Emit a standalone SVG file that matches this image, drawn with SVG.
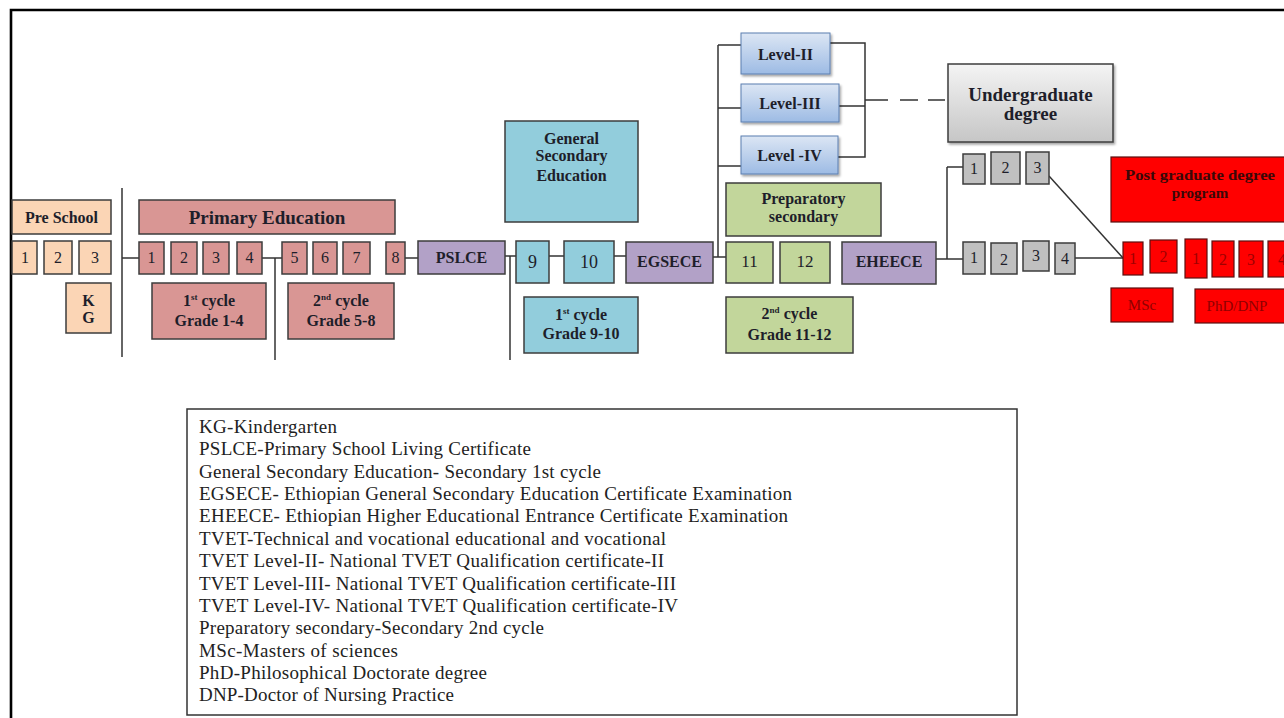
<svg xmlns="http://www.w3.org/2000/svg" width="1284" height="718" viewBox="0 0 1284 718">
<defs>
<style>
.b{stroke:#3c3c3c;stroke-width:1.5}
.peach{fill:#fbd5b5}
.rose{fill:#d99694}
.lav{fill:#b2a1c7}
.aqua{fill:#92cddc}
.green{fill:#c2d69b}
.gray{fill:#c0c0c0}
.red{fill:#ff0000;stroke:#5a1010;stroke-width:1.2}
.t{font-family:"Liberation Serif","Times New Roman",serif;fill:#1e1e2a;text-anchor:middle}
.bold{font-weight:bold}
.n{font-size:16px}
.leg{font-family:"Liberation Serif","Times New Roman",serif;font-size:19px;fill:#222}
.c{stroke:#333;stroke-width:1.5;fill:none}
</style>
<linearGradient id="gBlue" x1="0" y1="0" x2="0" y2="1">
<stop offset="0" stop-color="#dce6f4"/>
<stop offset="1" stop-color="#9dbbe4"/>
</linearGradient>
<linearGradient id="gGray" x1="0" y1="0" x2="0" y2="1">
<stop offset="0" stop-color="#f4f4f4"/>
<stop offset="1" stop-color="#c6c6c6"/>
</linearGradient>
<filter id="sh" x="-10%" y="-10%" width="130%" height="140%">
<feDropShadow dx="1.5" dy="2" stdDeviation="1.2" flood-color="#000" flood-opacity="0.35"/>
</filter>
</defs>
<rect width="1284" height="718" fill="#fff"/>
<path d="M11 718 V10 H1284" fill="none" stroke="#000" stroke-width="2.6"/>

<g id="connectors">
<line class="c" x1="122" y1="188" x2="122" y2="357"/>
<line class="c" x1="122" y1="258" x2="139" y2="258"/>
<line class="c" x1="262" y1="258" x2="282" y2="258"/>
<line class="c" x1="275" y1="258" x2="275" y2="360"/>
<line class="c" x1="405" y1="258" x2="418" y2="258"/>
<line class="c" x1="505" y1="256" x2="516" y2="256"/>
<line class="c" x1="510" y1="256" x2="510" y2="360"/>
<line class="c" x1="549" y1="256" x2="564" y2="256"/>
<line class="c" x1="614" y1="256" x2="626" y2="256"/>
<line class="c" x1="713" y1="257" x2="726" y2="257"/>
<line class="c" x1="718" y1="45" x2="718" y2="257"/>
<line class="c" x1="718" y1="45" x2="741" y2="45"/>
<line class="c" x1="718" y1="108" x2="741" y2="108"/>
<line class="c" x1="718" y1="166" x2="741" y2="166"/>
<path class="c" d="M830 43 H865 V157 H838 M839 106 H865"/>
<path class="c" d="M865 100 H888 M900 100 H918 M928 100 H945"/>
<line class="c" x1="936" y1="259" x2="963" y2="259"/>
<line class="c" x1="947" y1="167" x2="947" y2="259"/>
<line class="c" x1="947" y1="167" x2="963" y2="167"/>
<line class="c" x1="1075" y1="258" x2="1123" y2="258"/>
<line class="c" x1="1049" y1="176" x2="1123" y2="258" stroke-width="1.2"/>
</g>

<g id="preschool">
<rect class="b peach" x="12" y="200" width="99" height="34"/>
<text class="t bold" x="61.5" y="223" font-size="16">Pre School</text>
<rect class="b peach" x="12" y="241" width="25" height="33"/>
<rect class="b peach" x="44" y="241" width="28" height="33"/>
<rect class="b peach" x="79" y="241" width="32" height="33"/>
<text class="t n" x="25" y="263">1</text>
<text class="t n" x="58" y="263">2</text>
<text class="t n" x="95" y="263">3</text>
<rect class="b peach" x="66" y="283" width="45" height="50"/>
<text class="t bold" x="88.5" y="306" font-size="16">K</text>
<text class="t bold" x="88.5" y="323" font-size="16">G</text>
</g>

<g id="primary">
<rect class="b rose" x="139" y="200" width="256" height="34"/>
<text class="t bold" x="267" y="224" font-size="19">Primary Education</text>
<rect class="b rose" x="139" y="242" width="25" height="32"/>
<rect class="b rose" x="171" y="242" width="26" height="32"/>
<rect class="b rose" x="203" y="242" width="26" height="32"/>
<rect class="b rose" x="237" y="242" width="25" height="32"/>
<rect class="b rose" x="282" y="242" width="25" height="32"/>
<rect class="b rose" x="313" y="242" width="24" height="32"/>
<rect class="b rose" x="343" y="242" width="27" height="32"/>
<rect class="b rose" x="386" y="242" width="19" height="32"/>
<text class="t n" x="151.5" y="263">1</text>
<text class="t n" x="184" y="263">2</text>
<text class="t n" x="216" y="263">3</text>
<text class="t n" x="249.5" y="263">4</text>
<text class="t n" x="294.5" y="263">5</text>
<text class="t n" x="325" y="263">6</text>
<text class="t n" x="356.5" y="263">7</text>
<text class="t n" x="395.5" y="263">8</text>
<rect class="b rose" x="152" y="283" width="114" height="56"/>
<text class="t bold" x="209" y="306" font-size="16">1<tspan font-size="9" dy="-6">st</tspan><tspan dy="6"> cycle</tspan></text>
<text class="t bold" x="209" y="326" font-size="16">Grade 1-4</text>
<rect class="b rose" x="288" y="283" width="106" height="56"/>
<text class="t bold" x="341" y="306" font-size="16">2<tspan font-size="9" dy="-6">nd</tspan><tspan dy="6"> cycle</tspan></text>
<text class="t bold" x="341" y="326" font-size="16">Grade 5-8</text>
</g>

<g id="pslce">
<rect class="b lav" x="418" y="241" width="87" height="33"/>
<text class="t bold" x="461.5" y="263" font-size="16">PSLCE</text>
</g>

<g id="general-secondary">
<rect class="b aqua" x="505" y="121" width="133" height="101"/>
<text class="t bold" x="571.5" y="144" font-size="16">General</text>
<text class="t bold" x="571.5" y="161" font-size="16">Secondary</text>
<text class="t bold" x="571.5" y="181" font-size="16">Education</text>
<rect class="b aqua" x="516" y="241" width="33" height="42"/>
<text class="t" x="532.5" y="268" font-size="18">9</text>
<rect class="b aqua" x="564" y="241" width="50" height="42"/>
<text class="t" x="589" y="268" font-size="18">10</text>
<rect class="b aqua" x="524" y="297" width="114" height="56"/>
<text class="t bold" x="581" y="320" font-size="16">1<tspan font-size="9" dy="-6">st</tspan><tspan dy="6"> cycle</tspan></text>
<text class="t bold" x="581" y="339" font-size="16">Grade 9-10</text>
</g>

<g id="egsece">
<rect class="b lav" x="626" y="242" width="87" height="41"/>
<text class="t bold" x="669.5" y="267" font-size="16">EGSECE</text>
</g>

<g id="tvet-levels">
<rect x="741" y="33" width="89" height="41" fill="url(#gBlue)" stroke="#5b7fb0" stroke-width="1" filter="url(#sh)"/>
<text class="t bold" x="785.5" y="60" font-size="16">Level-II</text>
<rect x="741" y="84" width="98" height="38" fill="url(#gBlue)" stroke="#5b7fb0" stroke-width="1" filter="url(#sh)"/>
<text class="t bold" x="790" y="109" font-size="16">Level-III</text>
<rect x="741" y="136" width="97" height="38" fill="url(#gBlue)" stroke="#5b7fb0" stroke-width="1" filter="url(#sh)"/>
<text class="t bold" x="789.5" y="161" font-size="16">Level -IV</text>
</g>

<g id="undergraduate">
<rect x="948" y="64" width="165" height="78" fill="url(#gGray)" stroke="#3c3c3c" stroke-width="1.5" filter="url(#sh)"/>
<text class="t bold" x="1030.5" y="101" font-size="19">Undergraduate</text>
<text class="t bold" x="1030.5" y="120" font-size="19">degree</text>
</g>

<g id="preparatory">
<rect class="b green" x="726" y="183" width="155" height="53"/>
<text class="t bold" x="803.5" y="204" font-size="16">Preparatory</text>
<text class="t bold" x="803.5" y="222" font-size="16">secondary</text>
<rect class="b green" x="726" y="242" width="47" height="41"/>
<text class="t" x="749.5" y="267" font-size="17">11</text>
<rect class="b green" x="780" y="242" width="50" height="41"/>
<text class="t" x="805" y="267" font-size="17">12</text>
<rect class="b green" x="726" y="297" width="127" height="56"/>
<text class="t bold" x="789.5" y="319" font-size="16">2<tspan font-size="9" dy="-6">nd</tspan><tspan dy="6"> cycle</tspan></text>
<text class="t bold" x="789.5" y="340" font-size="16">Grade 11-12</text>
</g>

<g id="eheece">
<rect class="b lav" x="842" y="242" width="94" height="42"/>
<text class="t bold" x="889" y="267" font-size="16">EHEECE</text>
</g>

<g id="undergrad-years">
<rect class="b gray" x="963" y="154" width="22" height="30"/>
<rect class="b gray" x="991" y="152" width="29" height="32"/>
<rect class="b gray" x="1026" y="152" width="23" height="32"/>
<text class="t n" x="974" y="174">1</text>
<text class="t n" x="1005.5" y="173">2</text>
<text class="t n" x="1037.5" y="173">3</text>
<rect class="b gray" x="963" y="242" width="22" height="32"/>
<rect class="b gray" x="991" y="243" width="26" height="31"/>
<rect class="b gray" x="1023" y="241" width="26" height="30"/>
<rect class="b gray" x="1055" y="243" width="20" height="31"/>
<text class="t n" x="974" y="263">1</text>
<text class="t n" x="1004" y="265">2</text>
<text class="t n" x="1036" y="261">3</text>
<text class="t n" x="1065" y="264">4</text>
</g>

<g id="postgraduate">
<rect class="red" x="1111" y="157" width="180" height="65"/>
<text class="t bold" x="1200" y="180" font-size="15" textLength="150" lengthAdjust="spacingAndGlyphs" style="fill:#3a0808">Post graduate degree</text>
<text class="t bold" x="1200" y="198" font-size="15" style="fill:#3a0808">program</text>
<rect class="red" x="1123" y="242" width="20" height="33"/>
<rect class="red" x="1150" y="240" width="27" height="33"/>
<rect class="red" x="1185" y="239" width="22" height="39"/>
<rect class="red" x="1212" y="241" width="22" height="36"/>
<rect class="red" x="1239" y="241" width="24" height="36"/>
<rect class="red" x="1268" y="241" width="22" height="36"/>
<text class="t n" x="1133" y="264" style="fill:#a00000">1</text>
<text class="t n" x="1163.5" y="262" style="fill:#a00000">2</text>
<text class="t n" x="1196" y="264" style="fill:#a00000">1</text>
<text class="t n" x="1223" y="265" style="fill:#a00000">2</text>
<text class="t n" x="1251" y="265" style="fill:#a00000">3</text>
<text class="t n" x="1282" y="265" style="fill:#a00000">4</text>
<rect class="red" x="1111" y="288" width="62" height="34"/>
<text class="t" x="1142" y="310" font-size="15" style="fill:#900000">MSc</text>
<rect class="red" x="1195" y="289" width="95" height="34"/>
<text class="t" x="1237" y="311" font-size="15" style="fill:#900000">PhD/DNP</text>
</g>

<g id="legend">
<rect x="187" y="409" width="830" height="306" fill="#fff" stroke="#333" stroke-width="1.5"/>
<text class="leg" x="199" y="433" textLength="138" lengthAdjust="spacing">KG-Kindergarten</text>
<text class="leg" x="199" y="455.4" textLength="332" lengthAdjust="spacing">PSLCE-Primary School Living Certificate</text>
<text class="leg" x="199" y="477.7" textLength="402" lengthAdjust="spacing">General Secondary Education- Secondary 1st cycle</text>
<text class="leg" x="199" y="500.1" textLength="593" lengthAdjust="spacing">EGSECE- Ethiopian General Secondary Education Certificate Examination</text>
<text class="leg" x="199" y="522.4" textLength="589" lengthAdjust="spacing">EHEECE- Ethiopian Higher Educational Entrance Certificate Examination</text>
<text class="leg" x="199" y="544.8" textLength="467" lengthAdjust="spacing">TVET-Technical and vocational educational and vocational</text>
<text class="leg" x="199" y="567.1" textLength="465" lengthAdjust="spacing">TVET Level-II- National TVET Qualification certificate-II</text>
<text class="leg" x="199" y="589.5" textLength="477" lengthAdjust="spacing">TVET Level-III- National TVET Qualification certificate-III</text>
<text class="leg" x="199" y="611.8" textLength="479" lengthAdjust="spacing">TVET Level-IV- National TVET Qualification certificate-IV</text>
<text class="leg" x="199" y="634.2" textLength="345" lengthAdjust="spacing">Preparatory secondary-Secondary 2nd cycle</text>
<text class="leg" x="199" y="656.5" textLength="199" lengthAdjust="spacing">MSc-Masters of sciences</text>
<text class="leg" x="199" y="678.9" textLength="288" lengthAdjust="spacing">PhD-Philosophical Doctorate degree</text>
<text class="leg" x="199" y="701.2" textLength="255" lengthAdjust="spacing">DNP-Doctor of Nursing Practice</text>
</g>
</svg>
